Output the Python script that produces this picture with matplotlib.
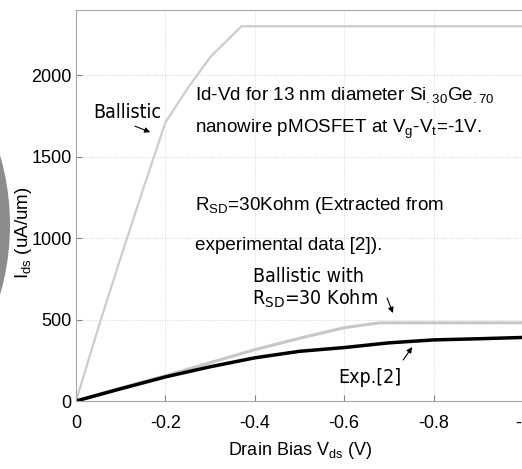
import matplotlib
matplotlib.use('Agg')
import matplotlib.pyplot as plt
from matplotlib.patches import Wedge
from matplotlib.transforms import IdentityTransform

plt.rcParams['axes.unicode_minus'] = False
plt.rcParams['mathtext.fontset'] = 'custom'
plt.rcParams['mathtext.rm'] = 'Liberation Sans'
plt.rcParams['mathtext.it'] = 'Liberation Sans'
plt.rcParams['mathtext.default'] = 'regular'

SANS = ['Liberation Sans', 'DejaVu Sans']

# Drain bias (V) and drain current (uA/um)
vd_ballistic = [0, -0.05, -0.1, -0.15, -0.2, -0.25, -0.3, -0.37, -1.0]
id_ballistic = [0, 450, 880, 1300, 1710, 1920, 2110, 2300, 2300]

vd_rsd = [0, -0.1, -0.2, -0.3, -0.4, -0.5, -0.6, -0.68, -1.0]
id_rsd = [0, 80, 155, 235, 315, 385, 450, 480, 480]

vd_exp = [0, -0.1, -0.2, -0.3, -0.4, -0.5, -0.6, -0.7, -0.8, -0.9, -1.0]
id_exp = [0, 75, 148, 210, 265, 305, 328, 357, 375, 382, 390]

xticks = [0, -0.2, -0.4, -0.6, -0.8, -1.0]
xticklabels = ['0', '-0.2', '-0.4', '-0.6', '-0.8', '-1']
yticks = [0, 500, 1000, 1500, 2000]

fig = plt.figure(figsize=(5.22, 4.69), dpi=100)
ax = fig.add_axes([76 / 522, 68 / 469, 447 / 522, 391 / 469])

# grey ring fragment at the left edge of the picture
fig.patches.append(Wedge((-240, 244), 250, -25, 25, width=10,
                         facecolor='0.55', edgecolor='none',
                         transform=IdentityTransform(), figure=fig))

ax.plot(vd_ballistic, id_ballistic, color='0.8', lw=1.6)
ax.plot(vd_rsd, id_rsd, color='0.78', lw=2.2)
ax.plot(vd_exp, id_exp, color='k', lw=2.5)

ax.set_xlim(0, -1)
ax.set_ylim(0, 2400)
ax.set_xticks(xticks)
ax.set_xticklabels(xticklabels)
ax.set_yticks(yticks)
ax.grid(True, ls=':', color='0.8', lw=0.6)
for s in ax.spines.values():
    s.set_color('0.65')
ax.tick_params(direction='in', length=4, color='0.5', labelsize=13)
ax.tick_params(axis='x', pad=10)
ax.tick_params(axis='y', pad=3)
for lab in ax.get_xticklabels() + ax.get_yticklabels():
    lab.set_family(SANS)

ax.set_xlabel(r'Drain Bias V$_{\mathrm{ds}}$ (V)', family=SANS, fontsize=13)
ax.set_ylabel(r'I$_{\mathrm{ds}}$ (uA/um)', family=SANS, fontsize=13.5)
ax.xaxis.set_label_coords(0.5, -0.1)
ax.yaxis.set_label_coords(-0.094, 0.43)

main_kw = dict(family=SANS, fontsize=13.6, va='baseline', ha='left')
ax.text(-0.266, 1847, r'Id-Vd for 13 nm diameter Si$_{.30}$Ge$_{.70}$', **main_kw)
ax.text(-0.266, 1644, r'nanowire pMOSFET at V$_{\mathrm{g}}$-V$_{\mathrm{t}}$=-1V.', **main_kw)
ax.text(-0.266, 1172, r'R$_{\mathrm{SD}}$=30Kohm (Extracted from', **main_kw)
ax.text(-0.266, 926, 'experimental data [2]).', **main_kw)

lab_kw = dict(family='DejaVu Sans', stretch='condensed', fontsize=14,
              va='baseline', ha='left', math_fontfamily='dejavusans')
ax.text(-0.038, 1736, 'Ballistic', **lab_kw)
ax.text(-0.396, 730, 'Ballistic with', **lab_kw)
ax.text(-0.394, 589, r'R$_{\mathrm{SD}}$=30 Kohm', **lab_kw)
ax.text(-0.586, 110, 'Exp.[2]', **lab_kw)

arrow = dict(arrowstyle='-|>', color='k', lw=0.8, mutation_scale=8,
             shrinkA=0, shrinkB=0)
ax.annotate('', xy=(-0.166, 1650), xytext=(-0.132, 1687), arrowprops=arrow)
ax.annotate('', xy=(-0.709, 540), xytext=(-0.696, 632), arrowprops=arrow)
ax.annotate('', xy=(-0.752, 331), xytext=(-0.732, 252), arrowprops=arrow)

fig.savefig('out.png', dpi=100)
